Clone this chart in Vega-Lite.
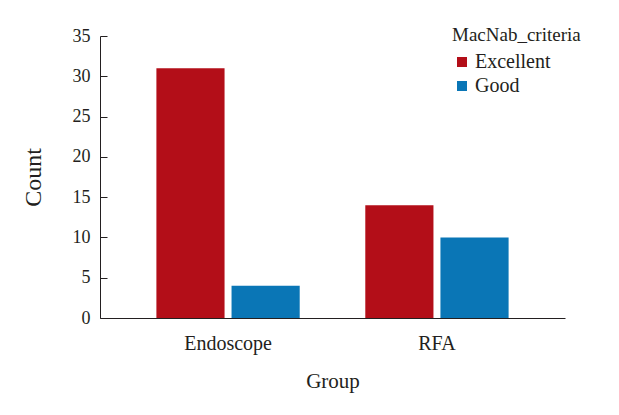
{
  "$schema": "https://vega.github.io/schema/vega-lite/v6.json",
  "width": 465,
  "height": 282,
  "autosize": {"type": "none"},
  "padding": {"left": 100, "top": 36, "right": 54, "bottom": 97},
  "background": "white",
  "data": {
    "values": [
      {"Group": "Endoscope", "MacNab_criteria": "Excellent", "Count": 31},
      {"Group": "Endoscope", "MacNab_criteria": "Good", "Count": 4},
      {"Group": "RFA", "MacNab_criteria": "Excellent", "Count": 14},
      {"Group": "RFA", "MacNab_criteria": "Good", "Count": 10}
    ]
  },
  "mark": {"type": "bar"},
  "encoding": {
    "x": {
      "field": "Group", "type": "nominal", "title": "Group",
      "scale": {"paddingInner": 0.314, "paddingOuter": 0.27},
      "axis": {"labelAngle": 0, "ticks": false, "labelPadding": 15, "titlePadding": 17, "labelFont": "Liberation Serif", "labelFontSize": 20, "titleFontSize": 21}
    },
    "xOffset": {
      "field": "MacNab_criteria", "type": "nominal",
      "scale": {"paddingInner": 0.093, "paddingOuter": 0}
    },
    "y": {
      "field": "Count", "type": "quantitative", "title": "Count",
      "scale": {"domain": [0, 35], "nice": false},
      "axis": {"values": [0, 5, 10, 15, 20, 25, 30, 35], "tickSize": -7, "labelPadding": 17, "titlePadding": 27, "grid": false, "labelFont": "Liberation Serif", "labelFontSize": 18, "titleFontSize": 24}
    },
    "color": {
      "field": "MacNab_criteria", "type": "nominal", "title": "MacNab_criteria",
      "scale": {"domain": ["Excellent", "Good"], "range": ["#B30E18", "#0A76B6"]},
      "legend": {
        "orient": "none", "legendX": 352, "legendY": -10,
        "titleAnchor": "start", "titleAlign": "left",
        "labelFont": "Liberation Serif",
        "symbolType": "square", "symbolSize": 100, "symbolStrokeWidth": 0,
        "rowPadding": 4, "labelOffset": 3, "titlePadding": 7
      }
    }
  },
  "config": {
    "font": "Liberation Serif",
    "view": {"stroke": null},
    "axis": {
      "domainColor": "#231F20", "domainWidth": 1, "tickColor": "#231F20",
      "labelColor": "#231F20", "titleColor": "#231F20",
      "titleFont": "Liberation Serif",
      "titleFontWeight": "normal"
    },
    "legend": {
      "titleFont": "Liberation Serif",
      "labelFontSize": 20, "titleFontSize": 19, "titleFontWeight": "normal",
      "labelColor": "#231F20", "titleColor": "#231F20"
    }
  }
}
